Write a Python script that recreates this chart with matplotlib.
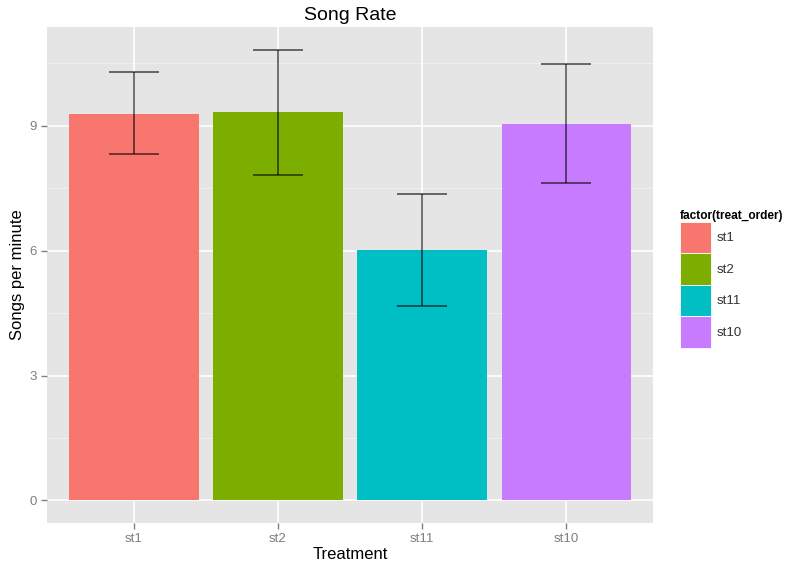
import matplotlib
matplotlib.use("Agg")
import matplotlib.pyplot as plt
from matplotlib.patches import Patch
import numpy as np

plt.rcParams["font.family"] = ["Liberation Sans", "DejaVu Sans"]

categories = ["st1", "st2", "st11", "st10"]
means = [9.29, 9.33, 6.02, 9.04]
upper = [10.30, 10.83, 7.36, 10.49]
lower = [8.32, 7.82, 4.67, 7.62]
colors = ["#F8766D", "#7CAE00", "#00BFC4", "#C77CFF"]
yticks = [0, 3, 6, 9]

fig = plt.figure(figsize=(7.88, 5.67), dpi=100)
ax = fig.add_axes([47/788, 1-523/567, (653-47)/788, (523-27)/567])
ax.set_facecolor("#E5E5E5")

x = np.arange(1, len(categories)+1)
ymax = max(upper)
ax.set_xlim(0.4, len(categories)+0.6)
ax.set_ylim(-0.05*ymax, ymax*1.05)

# grid
for v in [1.5, 4.5, 7.5, 10.5]:
    ax.axhline(v, color="#F2F2F2", lw=0.6, zorder=0)
for v in yticks:
    ax.axhline(v, color="white", lw=1.2, zorder=0)
for v in x:
    ax.axvline(v, color="white", lw=1.2, zorder=0)

ax.bar(x, means, width=0.9, color=colors, zorder=2)
means_a = np.array(means)
err = [means_a - np.array(lower), np.array(upper) - means_a]
ax.errorbar(x, means, yerr=err, fmt="none", ecolor=(0, 0, 0, 0.6),
            elinewidth=1.3, capsize=18, capthick=1.3, zorder=3)

for s in ax.spines.values():
    s.set_visible(False)
ax.set_xticks(x)
ax.set_xticklabels(categories)
ax.set_yticks(yticks)
ax.tick_params(axis="both", colors="#7F7F7F", labelcolor="#7F7F7F",
               labelsize=9.5, length=4, width=1)
ax.set_title("Song Rate", fontsize=14, pad=5)
ax.set_xlabel("Treatment", fontsize=12, labelpad=1)
ax.set_ylabel("Songs per minute", fontsize=12, labelpad=3)

handles = [Patch(facecolor=c, edgecolor="white", lw=0.6) for c in colors]
leg = fig.legend(handles, categories, title="factor(treat_order)",
                 loc="upper left", bbox_to_anchor=(673/788, 1-203/567),
                 frameon=False, fontsize=9.5, handlelength=2.4, handleheight=3.3,
                 labelspacing=0, handletextpad=0.4, borderpad=0,
                 alignment="left",
                 title_fontproperties={"weight": "bold", "size": 8.6})
plt.setp(leg.get_texts(), color="#333333")

fig.savefig("out.png", dpi=100)
